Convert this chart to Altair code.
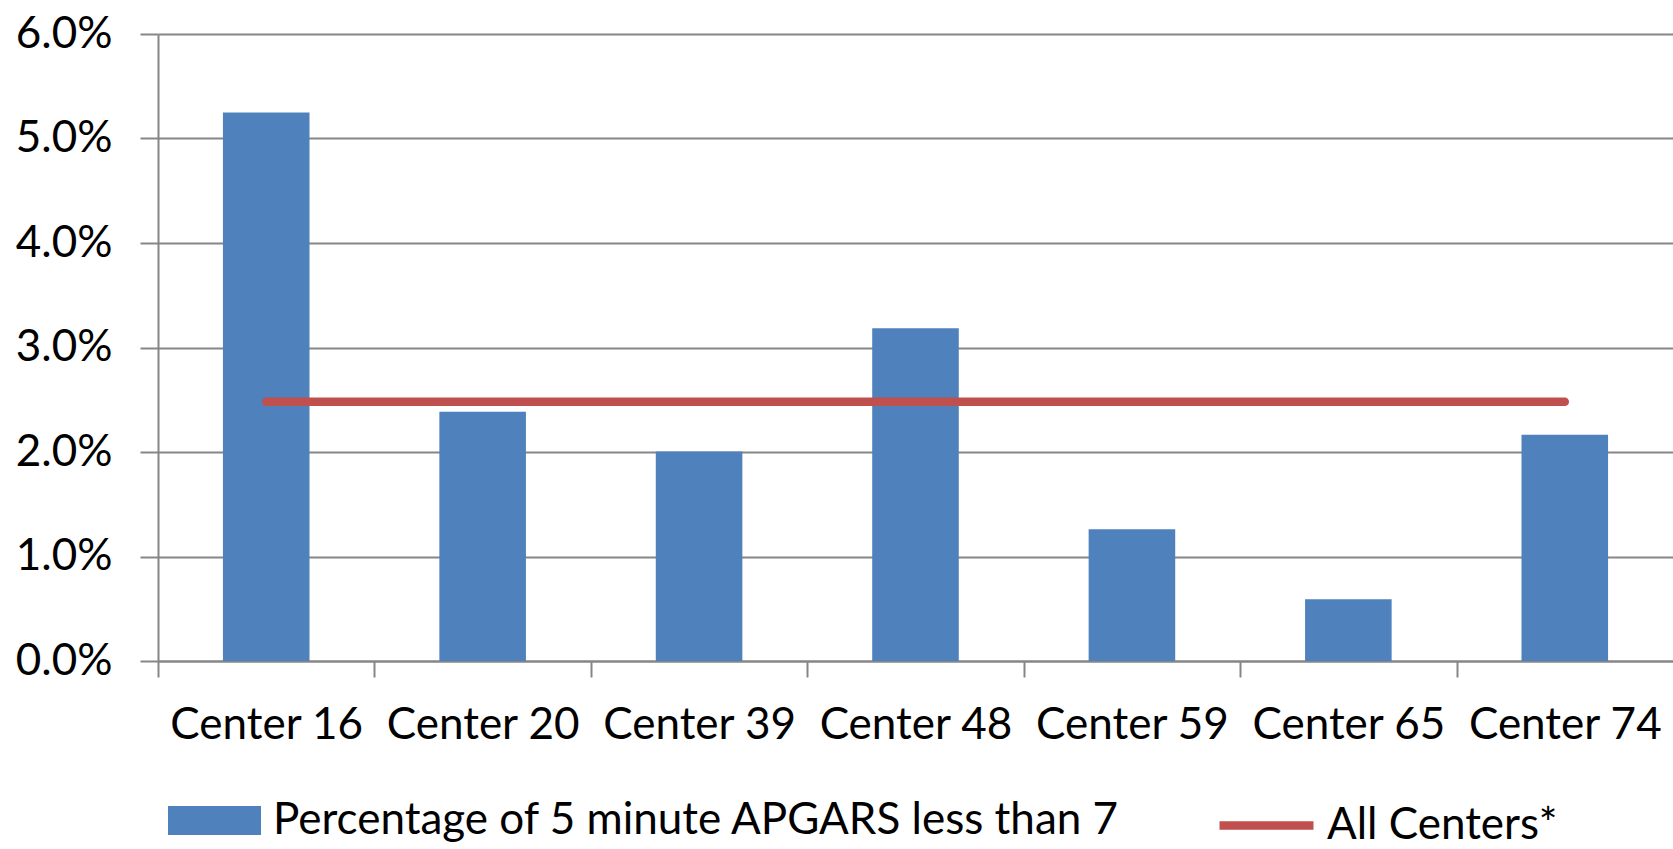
import altair as alt
import pandas as pd

# Share of births with a 5-minute APGAR score below 7, per center
centers = ["Center 16", "Center 20", "Center 39", "Center 48",
           "Center 59", "Center 65", "Center 74"]
pct_low_apgar = [0.0525, 0.02385, 0.02005, 0.03185, 0.0126, 0.0059, 0.02165]
all_centers_pct = 0.0248

bar_series = "Percentage of 5 minute APGARS less than 7"
line_series = "All Centers*"

df = pd.DataFrame({
    "center": centers,
    "pct": pct_low_apgar,
    "overall": [all_centers_pct] * len(centers),
    "bar_series": [bar_series] * len(centers),
    "line_series": [line_series] * len(centers),
})

FONT = "Lato"
GRAY = "#868686"
W, H = 1515, 627
STEP = W / len(centers)
LEGEND_Y = 740

x_enc = alt.X(
    "center:N",
    sort=centers,
    scale=alt.Scale(paddingInner=0.6, paddingOuter=0.3),
    axis=alt.Axis(
        title=None,
        labelAngle=0,
        labelFont=FONT,
        labelFontSize=44,
        labelColor="black",
        labelBaseline="alphabetic",
        labelPadding=61,
        labelLimit=400,
        labelOverlap=False,
        tickOffset=-STEP / 2,
        labelOffset=STEP / 2,
        tickSize=16,
        tickColor=GRAY,
        tickWidth=2,
        domainColor=GRAY,
        domainWidth=2,
        grid=False,
    ),
)

bars = alt.Chart(df).mark_bar(color="#4F81BD").encode(
    x=x_enc,
    y=alt.Y(
        "pct:Q",
        scale=alt.Scale(domain=[0, 0.06], nice=False),
        axis=alt.Axis(
            title=None,
            format=".1%",
            values=[0, 0.01, 0.02, 0.03, 0.04, 0.05, 0.06],
            labelFont=FONT,
            labelFontSize=44,
            labelColor="black",
            labelPadding=28,
            tickSize=18,
            tickColor=GRAY,
            tickWidth=2,
            domainColor=GRAY,
            domainWidth=2,
            grid=True,
            gridColor=GRAY,
            gridWidth=2,
        ),
    ),
    fill=alt.Fill(
        "bar_series:N",
        scale=alt.Scale(domain=[bar_series], range=["#4F81BD"]),
        legend=alt.Legend(
            title=None,
            orient="none",
            legendX=10,
            legendY=LEGEND_Y,
            padding=0,
            symbolType="M-1,-0.312L1,-0.312L1,0.312L-1,0.312Z",
            symbolSize=8649,
            symbolStrokeWidth=0,
            symbolOpacity=1,
            labelFont=FONT,
            labelFontSize=44,
            labelColor="black",
            labelOffset=12,
            labelLimit=2000,
        ),
    ),
)

line = alt.Chart(df).mark_line(strokeWidth=8.5, strokeCap="round").encode(
    x=alt.X("center:N", sort=centers),
    y=alt.Y("overall:Q"),
    stroke=alt.Stroke(
        "line_series:N",
        scale=alt.Scale(domain=[line_series], range=["#C0504D"]),
        legend=alt.Legend(
            title=None,
            orient="none",
            legendX=1057,
            legendY=LEGEND_Y,
            padding=0,
            symbolType="stroke",
            symbolSize=8836,
            symbolStrokeWidth=8.5,
            symbolOpacity=1,
            labelFont=FONT,
            labelFontSize=44,
            labelColor="black",
            labelOffset=9,
            labelLimit=2000,
        ),
    ),
)

chart = (
    alt.layer(bars, line)
    .properties(
        width=W,
        height=H,
        autosize=alt.AutoSizeParams(type="none"),
        padding={"left": 158, "top": 34, "right": 0, "bottom": 188},
        background="white",
    )
    .configure_view(stroke=None)
)

chart.save("out.html", embed_options={"renderer": "svg", "actions": False})
